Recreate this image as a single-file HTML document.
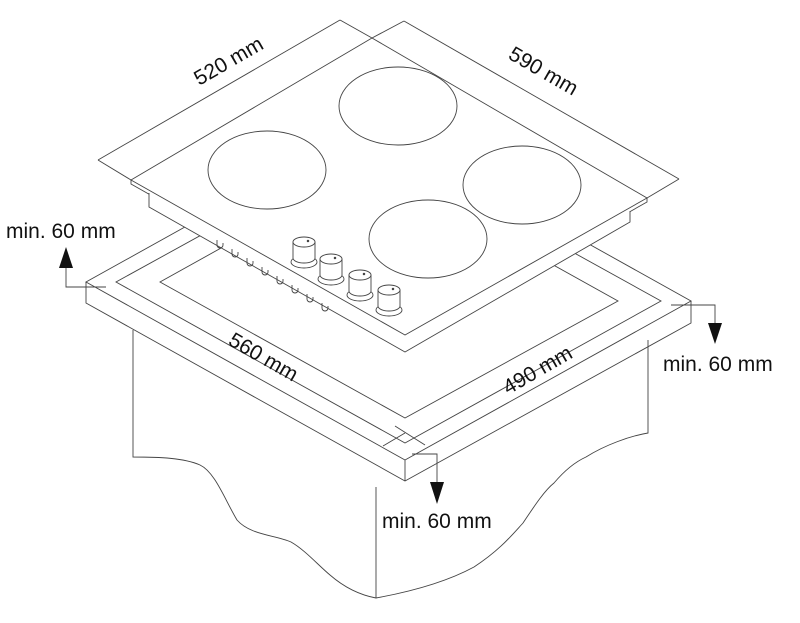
<!DOCTYPE html>
<html><head><meta charset="utf-8"><style>
html,body{margin:0;padding:0;background:#fff;width:800px;height:623px;overflow:hidden}
svg{display:block}
text{font-family:"Liberation Sans",sans-serif;font-size:21px;fill:#111}
</style></head><body>
<svg width="800" height="623" viewBox="0 0 800 623" xmlns="http://www.w3.org/2000/svg">
<g fill="none" stroke="#444" stroke-width="0.9">
<!-- cabinet -->
<path d="M133,330 L133,457 C160,457 184,458 200,465 C215,472 225,500 237,520 C250,535 275,535 291,542 C305,550 318,565 330,575 C345,588 360,595 376,598 C420,590 450,580 474,567 C500,550 512,535 523,523 C535,505 545,490 554,483 C565,470 575,462 586,457 C605,445 630,436 648,433 L648,340" fill="#fff"/>
<line x1="376" y1="487" x2="376" y2="598"/>
<!-- counter top -->
<path d="M86,282 L405,460 L691,301 L372,123 Z" fill="#fff"/>
<path d="M86,282 L86,303 L405,481 L691,323 L691,301"/>
<line x1="405" y1="460" x2="405" y2="481"/>
<!-- inner strips -->
<path d="M116,282 L405,443 L661,301 L372,141 Z"/>
<path d="M160,282 L405,418 L618,301 L372,164 Z" fill="#fff"/>
<line x1="383" y1="446" x2="405" y2="433"/>
<line x1="395" y1="426" x2="425" y2="445"/>
<!-- hob body -->
<path d="M131,180 L131,184 L405,339 L647,202 L647,198 Z" fill="#fff"/>
<path d="M149,193 L149,207 L405,352 L630,222 L630,211" fill="#fff"/>
<!-- hob top -->
<path d="M131,180 L372,38 L647,198 L405,335 Z" fill="#fff"/>
<!-- dimension frame -->
<line x1="98" y1="160" x2="340" y2="20"/>
<line x1="340" y1="20" x2="372" y2="38"/>
<line x1="372" y1="38" x2="404" y2="21"/>
<line x1="404" y1="21" x2="679" y2="179"/>
<line x1="98" y1="160" x2="131" y2="180"/>
<line x1="647" y1="198" x2="679" y2="179"/>
<!-- burners -->
<ellipse cx="398" cy="106" rx="59" ry="39"/>
<ellipse cx="267" cy="170" rx="59" ry="39"/>
<ellipse cx="522" cy="185" rx="59" ry="39"/>
<ellipse cx="428" cy="239" rx="59" ry="39"/>
<!-- vents -->
<path d="M217,240 l0,5 a3,3 0 0 0 6,0 l0,-2 M232,249 l0,5 a3,3 0 0 0 6,0 l0,-2 M247,258 l0,5 a3,3 0 0 0 6,0 l0,-2 M262,267 l0,5 a3,3 0 0 0 6,0 l0,-2 M277,276 l0,5 a3,3 0 0 0 6,0 l0,-2 M292,285 l0,5 a3,3 0 0 0 6,0 l0,-2 M307,294 l0,5 a3,3 0 0 0 6,0 l0,-2 M322,303 l0,5 a3,3 0 0 0 6,0 l0,-2"/>
<!-- knobs -->
<g fill="#fff">
<g transform="translate(304,242)"><ellipse cx="0" cy="20" rx="13" ry="6"/><path d="M-11,0 L-11,16 A11,5 0 0 0 11,16 L11,0"/><ellipse cx="0" cy="0" rx="11" ry="5"/><circle cx="4" cy="-1" r="0.8" fill="#333"/></g>
<g transform="translate(331,259)"><ellipse cx="0" cy="20" rx="13" ry="6"/><path d="M-11,0 L-11,16 A11,5 0 0 0 11,16 L11,0"/><ellipse cx="0" cy="0" rx="11" ry="5"/><circle cx="4" cy="-1" r="0.8" fill="#333"/></g>
<g transform="translate(360,275)"><ellipse cx="0" cy="20" rx="13" ry="6"/><path d="M-11,0 L-11,16 A11,5 0 0 0 11,16 L11,0"/><ellipse cx="0" cy="0" rx="11" ry="5"/><circle cx="4" cy="-1" r="0.8" fill="#333"/></g>
<g transform="translate(389,290)"><ellipse cx="0" cy="20" rx="13" ry="6"/><path d="M-11,0 L-11,16 A11,5 0 0 0 11,16 L11,0"/><ellipse cx="0" cy="0" rx="11" ry="5"/><circle cx="4" cy="-1" r="0.8" fill="#333"/></g>
</g>
<!-- arrows lines -->
<path d="M106,287 L66,287 L66,262"/>
<path d="M671,305 L715,305 L715,330"/>
<path d="M412,454 L437,454 L437,488"/>
</g>
<g fill="#111">
<path d="M66,247 L59,268 L73,268 Z"/>
<path d="M715,344 L708,323 L722,323 Z"/>
<path d="M437,504 L430,482 L444,482 Z"/>
</g>
<text x="6" y="238">min. 60 mm</text>
<text x="663" y="371">min. 60 mm</text>
<text x="382" y="528">min. 60 mm</text>
<text transform="translate(232,67) rotate(-30)" text-anchor="middle">520 mm</text>
<text transform="translate(540,77) rotate(30)" text-anchor="middle">590 mm</text>
<text transform="translate(260,363) rotate(30)" text-anchor="middle">560 mm</text>
<text transform="translate(541,376) rotate(-30)" text-anchor="middle">490 mm</text>
</svg>
</body></html>
